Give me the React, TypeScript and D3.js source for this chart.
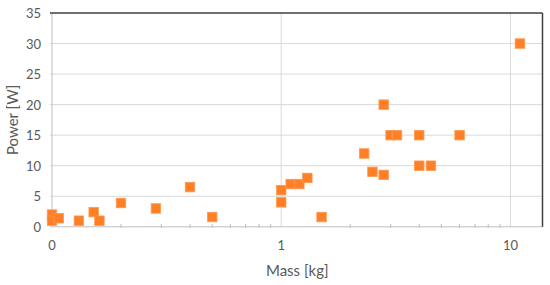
import React from "react";
import * as d3 from "d3";

const mass = [0.1, 0.1, 0.107, 0.131, 0.152, 0.161, 0.2, 0.284, 0.4, 0.5, 1.0, 1.0, 1.1, 1.2, 1.3, 1.5, 2.3, 2.5, 2.8, 2.8, 3.0, 3.2, 4.0, 4.0, 4.5, 6.0, 11.0];
const power = [2, 1, 1.4, 1.0, 2.4, 1.0, 3.9, 3.0, 6.5, 1.6, 4, 6, 7, 7, 8, 1.6, 12, 9, 20, 8.5, 15, 15, 15, 10, 10, 15, 30];
const yTicks = [0, 5, 10, 15, 20, 25, 30, 35];
const xMajor = [0.1, 1, 10];
const xMajorLabels = ["0", "1", "10"];
const xMinor = [0.2, 0.3, 0.4, 0.5, 0.6, 0.7, 0.8, 0.9, 2, 3, 4, 5, 6, 7, 8, 9];

const W = 550, H = 285;
const L = 52, R = 542.5, T = 13, B = 226.8;

export default function App() {
  const x = d3.scaleLog().domain([0.1, 13.8]).range([L, R]);
  const y = d3.scaleLinear().domain([0, 35]).range([B, T]);
  const font = "Lato, 'Open Sans', sans-serif";
  const txt = "#595959";
  const s = 9.5;
  return (
    <svg width={W} height={H} style={{ position: "absolute", left: 0, top: 0, background: "#fff" }}>
      {yTicks.filter(t => t > 0 && t < 35).map(t => (
        <line key={"hg" + t} x1={L - 2} x2={R} y1={y(t)} y2={y(t)} stroke="#d9d9d9" strokeWidth={1} />
      ))}
      {xMajor.filter(v => v > 0.1).map(v => (
        <line key={"vg" + v} x1={x(v)} x2={x(v)} y1={T} y2={B} stroke="#d9d9d9" strokeWidth={1} />
      ))}
      {xMinor.map(v => (
        <line key={"mt" + v} x1={x(v)} x2={x(v)} y1={B - 3} y2={B + 1} stroke="#bfbfbf" strokeWidth={1} />
      ))}
      <line x1={L} x2={L} y1={T} y2={B} stroke="#bfbfbf" strokeWidth={1} />
      <line x1={L - 2} x2={R} y1={B} y2={B} stroke="#bfbfbf" strokeWidth={1} />
      <line x1={L - 2} x2={R} y1={T} y2={T} stroke="#404040" strokeWidth={1.5} />
      <line x1={R} x2={R} y1={T} y2={B} stroke="#404040" strokeWidth={1.5} />
      {yTicks.map(t => (
        <text key={"yl" + t} x={41} y={y(t)} textAnchor="end" dominantBaseline="central" fontFamily={font} fontSize={13} fill={txt}>{t}</text>
      ))}
      {xMajor.map((v, i) => (
        <text key={"xl" + v} x={x(v)} y={245} textAnchor="middle" dominantBaseline="central" fontFamily={font} fontSize={13} fill={txt}>{xMajorLabels[i]}</text>
      ))}
      <text x={(L + R) / 2} y={270} textAnchor="middle" dominantBaseline="central" fontFamily={font} fontSize={15} fill={txt}>Mass [kg]</text>
      <text transform={`translate(12,${(T + B) / 2}) rotate(-90)`} textAnchor="middle" dominantBaseline="central" fontFamily={font} fontSize={15} fill={txt}>Power [W]</text>
      {mass.map((m, i) => (
        <rect key={"p" + i} x={x(m) - s / 2} y={y(power[i]) - s / 2} width={s} height={s} fill="#FF7F27" stroke="#FF9A50" strokeWidth={0.8} />
      ))}
    </svg>
  );
}
